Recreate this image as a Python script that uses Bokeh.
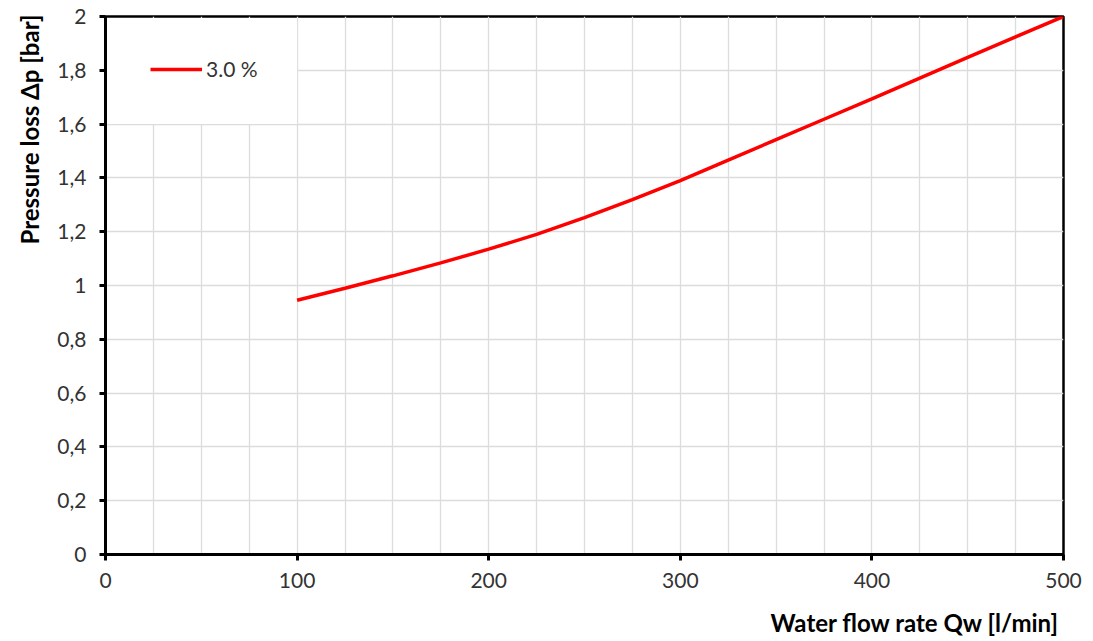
from bokeh.plotting import figure
from bokeh.models import FixedTicker, Legend, LegendItem, Title, BoxAnnotation
from bokeh.embed import file_html
from bokeh.resources import INLINE

# ---- data ----
flow = [100, 125, 150, 175, 200, 225, 250, 275, 300, 325, 350, 375, 400, 425, 450, 475, 500]
pressure = [0.945, 0.990, 1.036, 1.084, 1.135, 1.190, 1.252, 1.319, 1.390, 1.466,
            1.542, 1.618, 1.694, 1.771, 1.848, 1.924, 2.0]
series_name = "3.0 %"
x_ticks = [0, 100, 200, 300, 400, 500]
x_grid = [0, 25, 50, 75, 100, 125, 150, 175, 200, 225, 250, 275, 300, 325, 350, 375,
          400, 425, 450, 475, 500]
y_ticks = [0, 0.2, 0.4, 0.6, 0.8, 1.0, 1.2, 1.4, 1.6, 1.8, 2.0]
y_tick_labels = ["0", "0,2", "0,4", "0,6", "0,8", "1", "1,2", "1,4", "1,6", "1,8", "2"]
x_title = "Water flow rate Qw [l/min]"
y_title = "Pressure loss Δp [bar]"
legend_area = dict(left=0, right=100, bottom=1.6, top=1.994)

FONT = "Lato"
TICK_COLOR = "#333333"

p = figure(frame_width=958, frame_height=538,
           min_border_left=105, min_border_top=16, min_border_right=22, min_border_bottom=87,
           x_range=(0, 500), y_range=(0, 2),
           output_backend="svg", toolbar_location=None)

p.background_fill_color = "white"
p.border_fill_color = "white"
p.outline_line_color = "black"
p.outline_line_width = 2.5

# grids
p.xgrid.ticker = FixedTicker(ticks=x_grid)
p.ygrid.ticker = FixedTicker(ticks=y_ticks)
for g in (p.xgrid, p.ygrid):
    g.grid_line_color = "#dcdcdc"
    g.grid_line_width = 1.3

# white area behind the legend (hides the grid there)
p.add_layout(BoxAnnotation(**legend_area, fill_color="white", fill_alpha=1.0,
                           line_color=None, level="underlay"))

# axes
p.xaxis.ticker = FixedTicker(ticks=x_ticks)
p.yaxis.ticker = FixedTicker(ticks=y_ticks)
p.yaxis.major_label_overrides = {t: l for t, l in zip(y_ticks, y_tick_labels)}
for ax in (p.xaxis, p.yaxis):
    ax.axis_line_color = "black"
    ax.axis_line_width = 3
    ax.major_tick_line_color = "black"
    ax.major_tick_line_width = 3
    ax.major_tick_out = 6
    ax.major_tick_in = 0
    ax.minor_tick_line_color = None
    ax.major_label_text_font = FONT
    ax.major_label_text_font_size = "21px"
    ax.major_label_text_color = TICK_COLOR
p.xaxis.major_label_standoff = 12
p.yaxis.major_label_standoff = 13

r = p.line(flow, pressure, line_color="#ff0000", line_width=3.5)

legend = Legend(items=[LegendItem(label=series_name, renderers=[r])],
                location=(45, 538 - 54 - 11), margin=0, padding=0,
                glyph_width=52, glyph_height=22, label_height=22, label_standoff=4,
                label_text_font=FONT, label_text_font_size="21px",
                label_text_color=TICK_COLOR,
                background_fill_alpha=0.0,
                border_line_color=None)
p.add_layout(legend)

# axis titles
p.add_layout(Title(text=x_title, align="right", offset=4, standoff=30,
                   text_font=FONT, text_font_size="24px", text_font_style="bold",
                   text_color="black"), "below")
p.add_layout(Title(text=y_title, align="right", offset=-2, standoff=22,
                   text_font=FONT, text_font_size="24px", text_font_style="bold",
                   text_color="black"), "left")

open("out.html", "w").write(file_html(p, INLINE))
